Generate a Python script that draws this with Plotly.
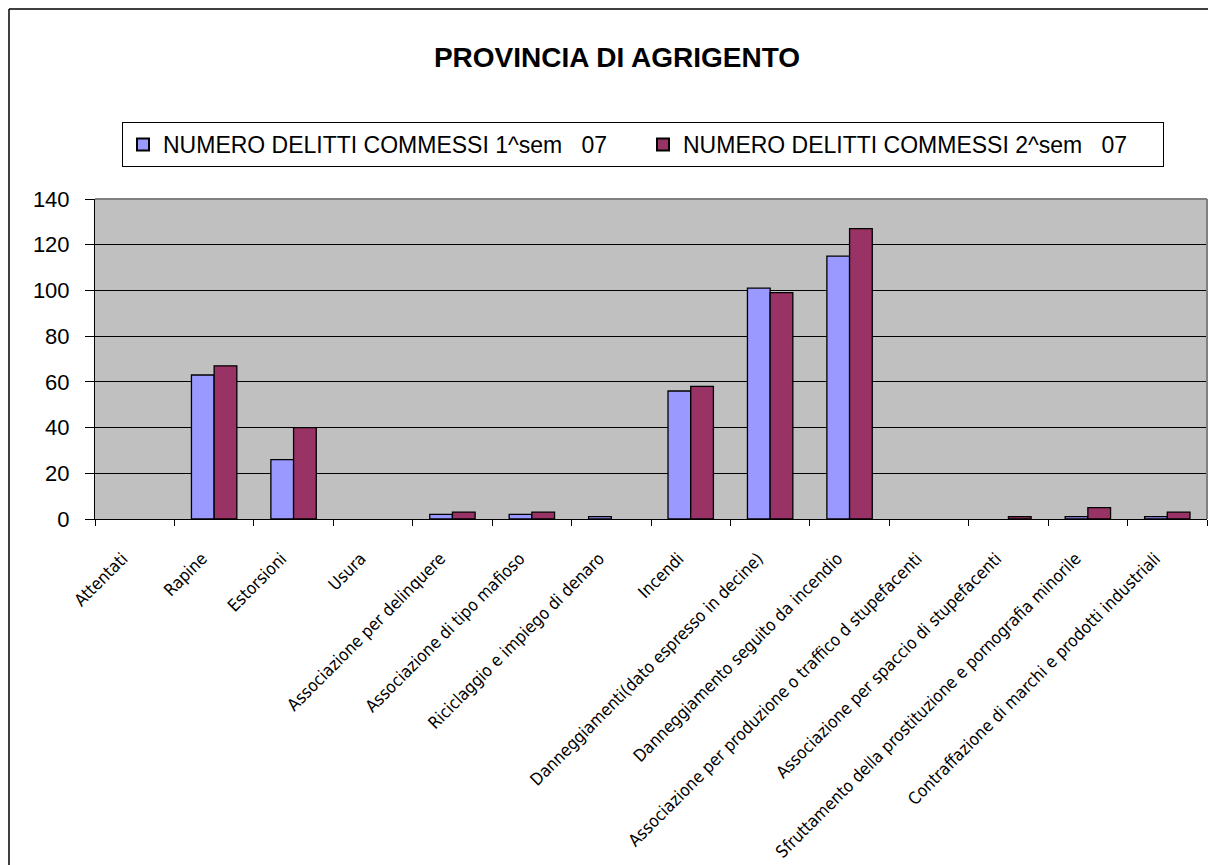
import plotly.graph_objects as go

categories = [
    "Attentati",
    "Rapine",
    "Estorsioni",
    "Usura",
    "Associazione per delinquere",
    "Associazione di tipo mafioso",
    "Riciclaggio e impiego di denaro",
    "Incendi",
    "Danneggiamenti(dato espresso in decine)",
    "Danneggiamento seguito da incendio",
    "Associazione per produzione o traffico d stupefacenti",
    "Associazione per spaccio di stupefacenti",
    "Sfruttamento della prostituzione e pornografia minorile",
    "Contraffazione di marchi e prodotti industriali",
]
sem1_values = [0, 63, 26, 0, 2, 2, 1, 56, 101, 115, 0, 0, 1, 1]
sem2_values = [0, 67, 40, 0, 3, 3, 0, 58, 99, 127, 0, 1, 5, 3]
series_names = ["NUMERO DELITTI COMMESSI 1^sem   07", "NUMERO DELITTI COMMESSI 2^sem   07"]
y_ticks = [0, 20, 40, 60, 80, 100, 120, 140]

# page body has an 8px margin: work in screen coords, convert to figure coords
OFF = 8
W, H = 1216 - OFF, 865 - OFF
L, R, T, B = 95 - OFF, 1207 - OFF, 199 - OFF, 519 - OFF
pw, ph = R - L, B - T

def px_x(x):
    return (x - OFF - L) / pw

def px_y(y):
    return 1 - (y - OFF - T) / ph

def edge_widths(vals):
    return [0 if v == 0 else 1.3 for v in vals]

fig = go.Figure()
fig.add_trace(go.Bar(x=categories, y=sem1_values, name=series_names[0],
                     marker=dict(color="#9999FF", line=dict(color="#000000", width=edge_widths(sem1_values)))))
fig.add_trace(go.Bar(x=categories, y=sem2_values, name=series_names[1],
                     marker=dict(color="#993366", line=dict(color="#000000", width=edge_widths(sem2_values)))))

fig.update_layout(
    width=W, height=H,
    margin=dict(l=L, r=W - R, t=T, b=H - B, autoexpand=False),
    paper_bgcolor="white",
    plot_bgcolor="#C0C0C0",
    barmode="group",
    bargap=0.4286,
    bargroupgap=0,
    font=dict(family="Arial, Liberation Sans, sans-serif", color="#000000"),
    title=dict(text="<b>PROVINCIA DI AGRIGENTO</b>", x=px_x(617), xref="paper", xanchor="center",
               y=1 - (57 - OFF) / H, yref="container", yanchor="middle",
               font=dict(size=28, family="Arial, Liberation Sans, sans-serif", color="#000000")),
    legend=dict(orientation="h", x=px_x(122), y=px_y(122), xanchor="left", yanchor="top",
                bgcolor="white", bordercolor="#000000", borderwidth=1,
                font=dict(size=23, family="Arial, Liberation Sans, sans-serif", color="#000000"),
                entrywidth=475, entrywidthmode="pixels",
                itemsizing="constant", traceorder="normal"),
    showlegend=True,
)

fig.update_yaxes(range=[0, 140], tickvals=y_ticks, ticktext=[str(v) for v in y_ticks],
                 showgrid=True, gridcolor="#000000", gridwidth=1,
                 showline=True, linecolor="#000000", linewidth=1,
                 ticks="outside", ticklen=9, tickcolor="#000000",
                 ticklabelstandoff=11,
                 tickfont=dict(size=22, family="Arial, Liberation Sans, sans-serif"),
                 zeroline=False, fixedrange=True)
fig.update_xaxes(type="category", tickangle=-45, tickson="boundaries",
                 showline=True, linecolor="#000000", linewidth=1,
                 ticks="outside", ticklen=6, tickcolor="#000000",
                 ticklabelstandoff=22, ticklabelshift=-12,
                 tickfont=dict(size=17, family="Liberation Sans Narrow, DejaVu Sans Condensed, Arial Narrow, sans-serif"),
                 showgrid=False, fixedrange=True)

# plot-area border (gray on top and right)
fig.add_shape(type="line", xref="paper", yref="paper", x0=0, x1=1, y0=1, y1=1,
              line=dict(color="#808080", width=2))
fig.add_shape(type="line", xref="paper", yref="paper", x0=1, x1=1, y0=0, y1=1,
              line=dict(color="#808080", width=2))
# outer chart border (left and top visible)
fig.add_shape(type="line", xref="paper", yref="paper", x0=px_x(9), x1=px_x(9),
              y0=px_y(9), y1=px_y(900), line=dict(color="#000000", width=1.5))
fig.add_shape(type="line", xref="paper", yref="paper", x0=px_x(9), x1=px_x(1300),
              y0=px_y(9), y1=px_y(9), line=dict(color="#000000", width=1.5))

fig.write_html("out.html")
